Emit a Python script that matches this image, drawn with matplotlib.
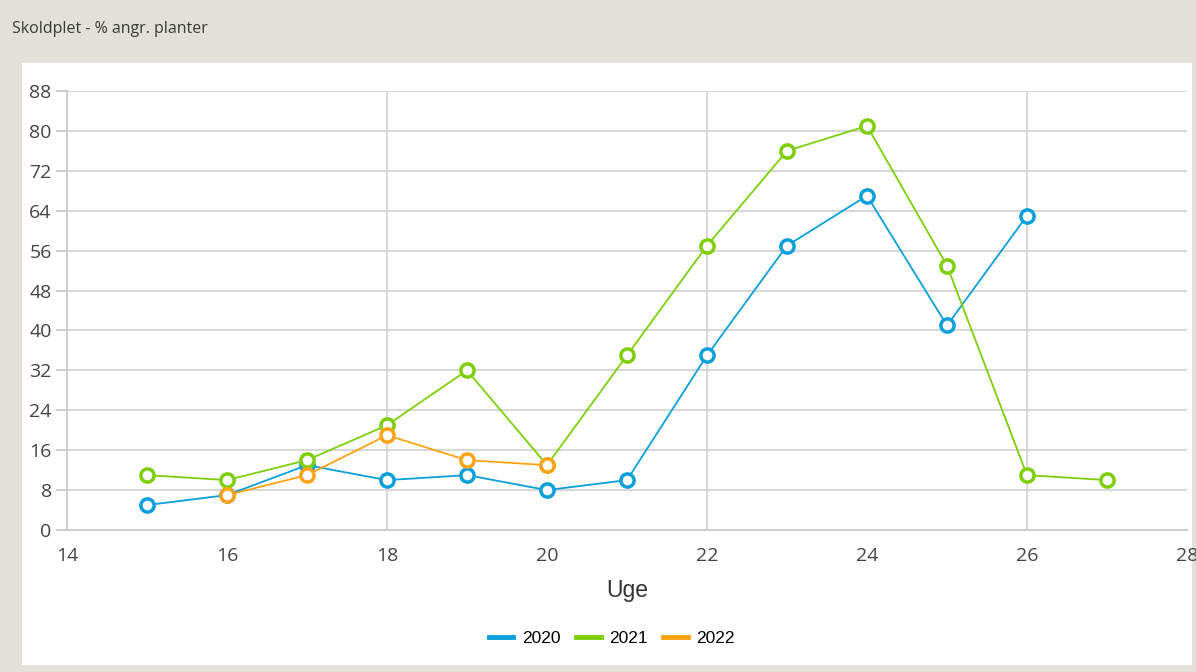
import numpy as np
import matplotlib.pyplot as plt
from matplotlib.patches import Rectangle

# data
uge_2020 = [15, 16, 17, 18, 19, 20, 21, 22, 23, 24, 25, 26]
val_2020 = [5, 7, 13, 10, 11, 8, 10, 35, 57, 67, 41, 63]
uge_2021 = [15, 16, 17, 18, 19, 20, 21, 22, 23, 24, 25, 26, 27]
val_2021 = [11, 10, 14, 21, 32, 13, 35, 57, 76, 81, 53, 11, 10]
uge_2022 = [16, 17, 18, 19, 20]
val_2022 = [7, 11, 19, 14, 13]
years = ['2020', '2021', '2022']
colors = ['#0b9fdb', '#7ecf0a', '#ffa214']
y_ticks = np.arange(0, 89, 8)
x_ticks = np.arange(14, 29, 2)
title = 'Skoldplet - % angr. planter'

W, H = 1196, 672
fig = plt.figure(figsize=(W / 100, H / 100), dpi=100)
fig.patch.set_facecolor('#e1e1d7')

# hvid panel
fig.patches.append(Rectangle((22 / W, 1 - 665 / H), (1192 - 22) / W, (665 - 63) / H,
                             transform=fig.transFigure, facecolor='white', edgecolor='none', zorder=-5))
fig.text(12 / W, 1 - 29 / H, title, fontsize=11.5, color='#3a3a3a', va='center', ha='left',
         family='Open Sans')

ax = fig.add_axes([67 / W, 1 - 530 / H, (1187 - 67) / W, (530 - 91) / H])
ax.set_zorder(2)
ax.set_facecolor('white')
ax.set_xlim(14, 28)
ax.set_ylim(0, 88)

# grid
for y in y_ticks[1:]:
    ax.axhline(y, color='#d8d8d8', lw=1.5, zorder=1)
for x in [18, 22, 26]:
    ax.axvline(x, color='#d8d8d8', lw=1.5, zorder=1)

for s in ['top', 'right']:
    ax.spines[s].set_visible(False)
for s in ['left', 'bottom']:
    ax.spines[s].set_color('#cfcfcf')
    ax.spines[s].set_linewidth(1.5)

ax.set_yticks(y_ticks)
ax.set_xticks(x_ticks)
ax.tick_params(axis='y', length=8, width=1.5, color='#cfcfcf', labelsize=14, labelcolor='#444444', pad=3)
ax.tick_params(axis='x', length=0, labelsize=14, labelcolor='#444444', pad=12)
for lab in ax.get_xticklabels() + ax.get_yticklabels():
    lab.set_family('Open Sans')

series = [(uge_2020, val_2020), (uge_2021, val_2021), (uge_2022, val_2022)]
for (xs, ys), yr, c in zip(series, years, colors):
    ax.plot(xs, ys, color=c, lw=1.3, marker='o', markersize=9.5, markerfacecolor='white',
            markeredgecolor=c, markeredgewidth=2.5, label=yr, zorder=3, clip_on=False)

ax.set_xlabel('Uge', fontsize=16.5, color='#333333', family='Liberation Sans', labelpad=10)

handles = [plt.Line2D([], [], color=c, lw=3.5) for c in colors]
fig.legend(handles, years, loc='center', bbox_to_anchor=(612 / W, 1 - 638 / H), ncol=3,
           frameon=False, handlelength=1.4, handletextpad=0.5, columnspacing=0.9,
           prop={'family': 'Liberation Sans', 'size': 12.5})

fig.savefig('out.png', dpi=100, facecolor=fig.get_facecolor())
